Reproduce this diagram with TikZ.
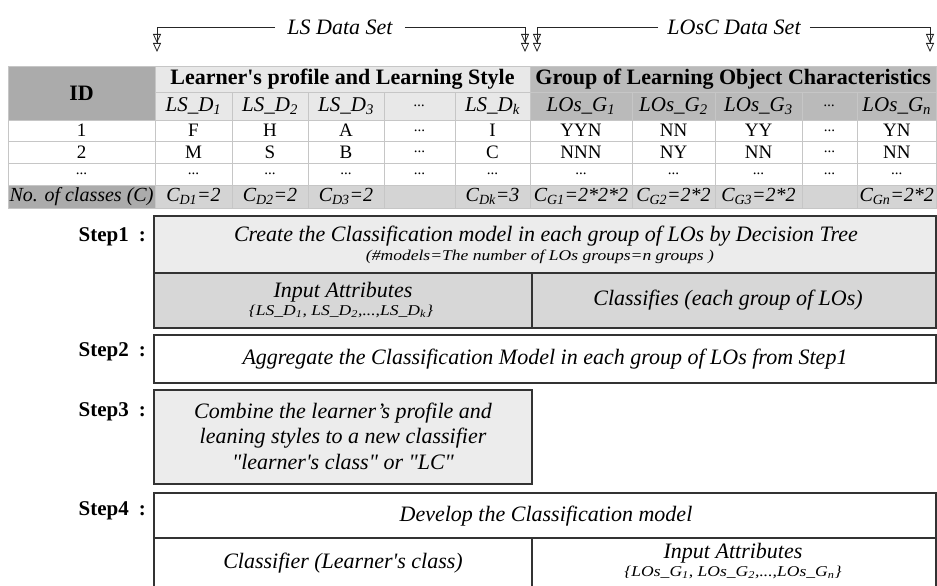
\documentclass[tikz,border=0pt]{standalone}
\usepackage{fontspec}
\setmainfont{Liberation Serif}
\usetikzlibrary{arrows.meta}

\definecolor{idgray}{HTML}{ABABAB}
\definecolor{lshead}{HTML}{E8E8E8}
\definecolor{loshead}{HTML}{BABABA}
\definecolor{crow}{HTML}{D4D4D4}
\definecolor{gridline}{HTML}{C6C6C6}
\definecolor{boxlight}{HTML}{ECECEC}
\definecolor{boxmid}{HTML}{D7D7D7}

% cell: name, x1, y1, x2, y2, style, text
\newcommand{\tcell}[7]{%
  \node[cellbase,#6,minimum width={#4-#2},minimum height={#5-#3}] (#1)
    at ({(#2+#4)/2},{(#3+#5)/2}) {#7};}
\newcommand{\tdots}{{\fontsize{15}{18}\selectfont ...}}
\newcommand{\smallset}[1]{\scalebox{1.17}[1]{\fontsize{15}{18}\selectfont #1}}
\newcommand{\sq}{\textquotesingle}
\newcommand{\dq}{\textquotedbl}

\begin{document}
\begin{tikzpicture}[x=1pt,y=-1pt,
  cellbase/.style={draw=gridline,line width=0.8pt,inner sep=0pt,anchor=center},
  hdrb/.style={font=\fontsize{22}{24}\selectfont\bfseries},
  hdri/.style={font=\fontsize{21}{24}\selectfont\itshape},
  body/.style={fill=white,font=\fontsize{19}{22}\selectfont},
  lsh/.style={fill=lshead},
  losh/.style={fill=loshead},
  crowcell/.style={fill=crow,font=\fontsize{20}{24}\selectfont\itshape},
  idcell/.style={fill=idgray},
  stepbox/.style={draw=black!80,line width=1.2pt},
  stxt/.style={font=\fontsize{22}{25.5}\selectfont\itshape,inner sep=0pt,align=center},
  steplab/.style={font=\fontsize{21}{24}\selectfont\bfseries,anchor=east,inner sep=0pt},
  dslab/.style={font=\fontsize{22}{24}\selectfont\itshape,inner ysep=0pt},
  brk/.style={draw=black!85,line width=0.8pt,
    -{Triangle[open,length=9pt,width=8pt] Triangle[open,length=9pt,width=8pt]}}]

\useasboundingbox (0,0) rectangle (937,586);
\fill[white] (0,0) rectangle (937,586);

% data set brackets
\node[dslab,inner xsep=12pt] (lsl) at (340,27) {LS Data Set};
\coordinate (lsa) at (157,52);
\coordinate (lsb) at (525,52);
\draw[brk] (lsl.west) -| (lsa);
\draw[brk] (lsl.east) -| (lsb);

\node[dslab,inner xsep=9pt] (losl) at (734,27) {LOsC Data Set};
\coordinate (losa) at (537,52);
\coordinate (losb) at (930,52);
\draw[brk] (losl.west) -| (losa);
\draw[brk] (losl.east) -| (losb);

% table header
\tcell{id}{8}{66}{155}{120}{idcell,hdrb}{ID}
\tcell{lshdr}{155}{66}{530}{92}{lsh,hdrb}{Learner\sq s profile and Learning Style}
\tcell{loshdr}{530}{66}{936.5}{92}{losh,hdrb}{Group of Learning Object Characteristics}

\foreach \xa/\xb/\t [count=\i] in {155/232/{LS\_D\textsubscript{1}},232/308/{LS\_D\textsubscript{2}},
    308/384/{LS\_D\textsubscript{3}},384/455/\tdots,455/530/{LS\_D\textsubscript{k}}}
  {\tcell{hls\i}{\xa}{92}{\xb}{120}{lsh,hdri}{\t}}
\foreach \xa/\xb/\t [count=\i] in {530/632/{LOs\_G\textsubscript{1}},632/715/{LOs\_G\textsubscript{2}},
    715/802/{LOs\_G\textsubscript{3}},802/857/\tdots,857/936.5/{LOs\_G\textsubscript{n}}}
  {\tcell{hlos\i}{\xa}{92}{\xb}{120}{losh,hdri}{\t}}

% table body
\foreach \xa/\xb/\t [count=\i] in {8/155/1,155/232/F,232/308/H,308/384/A,384/455/\tdots,
    455/530/I,530/632/YYN,632/715/NN,715/802/YY,802/857/\tdots,857/936.5/YN}
  {\tcell{ra\i}{\xa}{120}{\xb}{141}{body}{\t}}
\foreach \xa/\xb/\t [count=\i] in {8/155/2,155/232/M,232/308/S,308/384/B,384/455/\tdots,
    455/530/C,530/632/NNN,632/715/NY,715/802/NN,802/857/\tdots,857/936.5/NN}
  {\tcell{rb\i}{\xa}{141}{\xb}{163}{body}{\t}}
\foreach \xa/\xb [count=\i] in {8/155,155/232,232/308,308/384,384/455,
    455/530,530/632,632/715,715/802,802/857,857/936.5}
  {\tcell{rc\i}{\xa}{163}{\xb}{185}{body}{\tdots}}

% number of classes
\tcell{nc}{8}{185}{155}{208}{crowcell,idcell}{No. of classes (C)}
\foreach \xa/\xb/\t [count=\i] in {155/232/{C\textsubscript{D1}=2},232/308/{C\textsubscript{D2}=2},
    308/384/{C\textsubscript{D3}=2},384/455/{},455/530/{C\textsubscript{Dk}=3},
    530/632/{C\textsubscript{G1}=2*2*2},632/715/{C\textsubscript{G2}=2*2},
    715/802/{C\textsubscript{G3}=2*2},802/857/{},857/936.5/{C\textsubscript{Gn}=2*2}}
  {\tcell{nc\i}{\xa}{185}{\xb}{208}{crowcell}{\t}}

% step 1
\node[steplab] (st1) at (146,237) {Step1\hspace{10pt}:};
\tcell{s1top}{154}{216}{936}{273}{stepbox,fill=boxlight}{}
\tcell{s1in}{154}{273}{532}{328}{stepbox,fill=boxmid}{}
\tcell{s1cls}{532}{273}{936}{328}{stepbox,fill=boxmid}{}
\node[stxt] (s1a) at (546,236) {Create the Classification model in each group of LOs by Decision Tree};
\node[stxt] (s1b) at (540,257) {\smallset{(\#models=The number of LOs groups=n groups )}};
\node[stxt] (s1c) at (343,292) {Input Attributes};
\node[stxt] (s1d) at (341,311) {\smallset{\{LS\_D\textsubscript{1}, LS\_D\textsubscript{2},...,LS\_D\textsubscript{k}\}}};
\node[stxt] (s1e) at (728,300) {Classifies (each group of LOs)};

% step 2
\node[steplab] (st2) at (146,352) {Step2\hspace{10pt}:};
\tcell{s2box}{154}{335}{936}{383}{stepbox,fill=white}{}
\node[stxt] (s2a) at (545,359) {Aggregate the Classification Model in each group of LOs from Step1};

% step 3
\node[steplab] (st3) at (146,412) {Step3\hspace{10pt}:};
\tcell{s3box}{154}{390}{532}{484}{stepbox,fill=boxlight}{}
\node[stxt] (s3a) at (343,436) {Combine the learner’s profile and\\leaning styles to a new classifier\\\dq learner\sq s class\dq{} or \dq LC\dq};

% step 4
\node[steplab] (st4) at (146,511) {Step4\hspace{10pt}:};
\tcell{s4top}{154}{493}{936}{538}{stepbox,fill=white}{}
\tcell{s4cls}{154}{538}{532}{592}{stepbox,fill=white}{}
\tcell{s4in}{532}{538}{936}{592}{stepbox,fill=white}{}
\node[stxt] (s4a) at (546,516) {Develop the Classification model};
\node[stxt] (s4b) at (343,563) {Classifier (Learner\sq s class)};
\node[stxt] (s4c) at (733,553) {Input Attributes};
\node[stxt] (s4d) at (733,572) {\smallset{\{LOs\_G\textsubscript{1}, LOs\_G\textsubscript{2},...,LOs\_G\textsubscript{n}\}}};
\end{tikzpicture}
\end{document}
